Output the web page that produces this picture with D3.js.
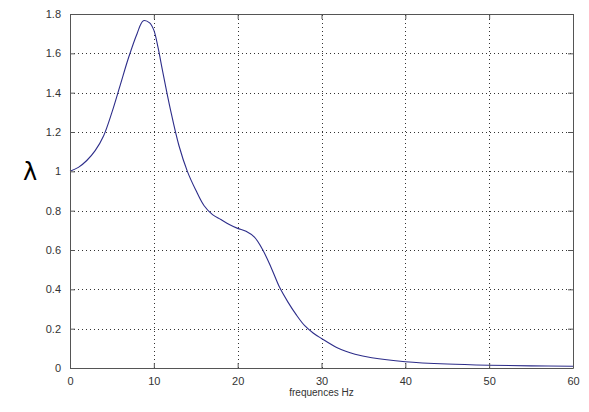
<!DOCTYPE html>
<html>
<head>
<meta charset="utf-8">
<script src="https://cdn.jsdelivr.net/npm/d3@7"></script>
<style>
  body { margin: 0; background: #fff; }
  svg { display: block; }
</style>
</head>
<body>
<div id="chart"></div>
<script>
// values
let freqs = [0, 1, 2, 3, 4, 5, 6, 7, 8, 8.75, 9.5, 10, 10.5, 11, 12, 13, 14, 15, 16, 17, 18, 19, 20,
             21, 22, 23, 24, 25, 26, 27, 28, 29, 30, 32, 34, 36, 40, 45, 50, 55, 60];
let lambdas = [1.0, 1.02, 1.055, 1.105, 1.18, 1.3, 1.44, 1.58, 1.7, 1.766, 1.755, 1.718, 1.63, 1.52,
               1.31, 1.13, 1.0, 0.905, 0.825, 0.78, 0.755, 0.73, 0.71, 0.695, 0.665, 0.6, 0.51, 0.41,
               0.335, 0.27, 0.215, 0.178, 0.15, 0.1, 0.07, 0.052, 0.032, 0.02, 0.014, 0.011, 0.009];
let xTicks = [0, 10, 20, 30, 40, 50, 60];
let yTicks = [0, 0.2, 0.4, 0.6, 0.8, 1, 1.2, 1.4, 1.6, 1.8];

let width = 589, height = 412;
let margin = {left: 70, right: 16, top: 14, bottom: 44};

let svg = d3.select("#chart").append("svg")
    .attr("width", width)
    .attr("height", height);

let x = d3.scaleLinear().domain([0, 60]).range([margin.left, width - margin.right]);
let y = d3.scaleLinear().domain([0, 1.8]).range([height - margin.bottom, margin.top]);

let font = "Liberation Sans, Arial, sans-serif";
let axisColor = "#555";

// grid
let grid = svg.append("g")
    .attr("stroke", "#333")
    .attr("stroke-width", 1)
    .attr("stroke-dasharray", "1,3");
grid.selectAll(".gx")
    .data(xTicks.slice(1, -1))
    .enter().append("line")
    .attr("x1", d => Math.round(x(d)) + 0.5)
    .attr("x2", d => Math.round(x(d)) + 0.5)
    .attr("y1", y(0))
    .attr("y2", y(1.8));
grid.selectAll(".gy")
    .data(yTicks.slice(1, -1))
    .enter().append("line")
    .attr("x1", x(0))
    .attr("x2", x(60))
    .attr("y1", d => Math.round(y(d)) + 0.5)
    .attr("y2", d => Math.round(y(d)) + 0.5);

// curve
let line = d3.line()
    .x((d, i) => x(freqs[i]))
    .y(d => y(d))
    .curve(d3.curveCatmullRom.alpha(0.5));

svg.append("path")
    .datum(lambdas)
    .attr("fill", "none")
    .attr("stroke", "#2d2d8a")
    .attr("stroke-width", 1.1)
    .attr("d", line);

// axes (MATLAB style: inward ticks, box on)
function styleAxis(g) {
    g.select(".domain").attr("stroke", axisColor);
    g.selectAll(".tick line").attr("stroke", axisColor);
    g.selectAll(".tick text")
        .attr("fill", "#333")
        .style("font-family", font)
        .style("font-size", "11px");
}

svg.append("g")
    .attr("transform", `translate(0,${y(0)})`)
    .call(d3.axisBottom(x).tickValues(xTicks).tickSizeInner(-5).tickSizeOuter(0).tickPadding(9))
    .call(styleAxis);

svg.append("g")
    .attr("transform", `translate(0,${y(1.8)})`)
    .call(d3.axisTop(x).tickValues(xTicks).tickSizeInner(-5).tickSizeOuter(0).tickFormat(""))
    .call(styleAxis);

svg.append("g")
    .attr("transform", `translate(${x(0)},0)`)
    .call(d3.axisLeft(y).tickValues(yTicks).tickSizeInner(-5).tickSizeOuter(0).tickPadding(9)
        .tickFormat(d3.format("~g")))
    .call(styleAxis);

svg.append("g")
    .attr("transform", `translate(${x(60)},0)`)
    .call(d3.axisRight(y).tickValues(yTicks).tickSizeInner(-5).tickSizeOuter(0).tickFormat(""))
    .call(styleAxis);

// labels
svg.append("text")
    .attr("x", (x(0) + x(60)) / 2)
    .attr("y", 396)
    .attr("text-anchor", "middle")
    .attr("fill", "#333")
    .style("font-family", font)
    .style("font-size", "10px")
    .text("frequences Hz");

svg.append("text")
    .attr("x", 30)
    .attr("y", y(1) + 9)
    .attr("text-anchor", "middle")
    .attr("fill", "#000")
    .style("font-family", "DejaVu Sans, sans-serif")
    .style("font-size", "24px")
    .text("λ");
</script>
</body>
</html>
